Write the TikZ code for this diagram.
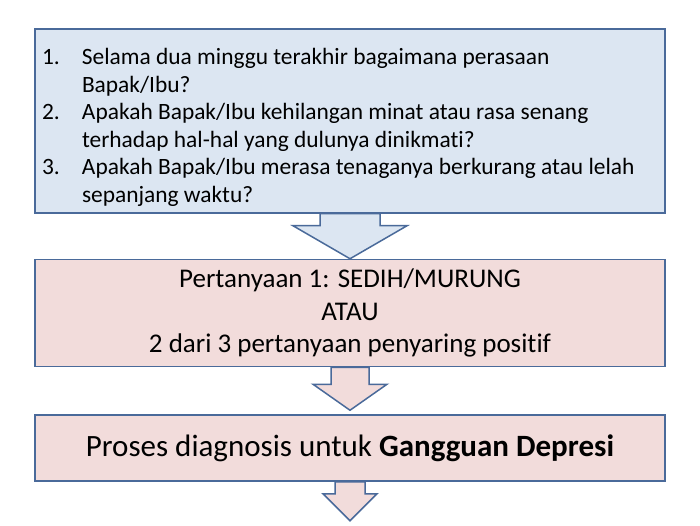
\documentclass[tikz,border=0pt]{standalone}
\usepackage{fontspec}
\setmainfont{Carlito}[Ligatures=NoCommon]
\usetikzlibrary{positioning, calc}

\definecolor{boxblue}{HTML}{DCE6F2}
\definecolor{boxpink}{HTML}{F2DCDB}
\definecolor{edgeblue}{HTML}{4A6A9A}

\newcommand{\qnum}[1]{\makebox[40pt][l]{#1}}
\newcommand{\qcont}{\hspace*{40pt}}

\begin{document}
\begin{tikzpicture}[
    x=1pt, y=1pt,
    box/.style={rectangle, draw=edgeblue, line width=1.5pt, minimum width=630pt, inner sep=0pt},
    blockarrow/.style={draw=edgeblue, line width=1.5pt, line join=miter}
]
\useasboundingbox (0,0) rectangle (700,525);

% Nodes
\node[box, fill=boxblue, minimum height=184pt, text width=616pt, align=flush left,
      font=\fontsize{23.4}{27.5}\selectfont] (questions) at (350,404)
    {\rule{0pt}{29pt}\qnum{1.}Selama dua minggu terakhir bagaimana perasaan\\
     \qcont Bapak/Ibu?\\
     \qnum{2.}Apakah Bapak/Ibu kehilangan minat atau rasa senang\\
     \qcont terhadap hal-hal yang dulunya dinikmati?\\
     \qnum{3.}Apakah Bapak/Ibu merasa tenaganya berkurang atau lelah\\
     \qcont sepanjang waktu?};
\node[box, below=45pt of questions, fill=boxpink, minimum height=107pt, align=center,
      font=\fontsize{27}{32.5}\selectfont] (screening)
    {Pertanyaan 1: SEDIH/MURUNG\\ATAU\\2 dari 3 pertanyaan penyaring positif};
\node[box, below=47pt of screening, fill=boxpink, minimum height=66pt,
      font=\fontsize{31}{37}\selectfont] (diagnosis)
    {Proses diagnosis untuk \textbf{Gangguan Depresi}};
\coordinate[below=39pt of diagnosis] (next);

% Arrows
\draw[blockarrow, fill=boxblue] ($(questions.south)+(-30,0)$) -- ++(0,-12) -- ++(-27,0)
    -- (screening.north) -- ($(questions.south)+(57,-12)$) -- ++(-27,0) -- ++(0,12) -- cycle;
\draw[blockarrow, fill=boxpink] ($(screening.south)+(-19,0)$) -- ++(0,-17) -- ++(-18,0)
    -- ($(diagnosis.north)+(0,4)$) -- ($(screening.south)+(37,-17)$) -- ++(-18,0) -- ++(0,17) -- cycle;
\draw[blockarrow, fill=boxpink] ($(diagnosis.south)+(-15,0)$) -- ++(0,-12) -- ++(-12,0)
    -- (next) -- ($(diagnosis.south)+(27,-12)$) -- ++(-12,0) -- ++(0,12) -- cycle;

\end{tikzpicture}
\end{document}
